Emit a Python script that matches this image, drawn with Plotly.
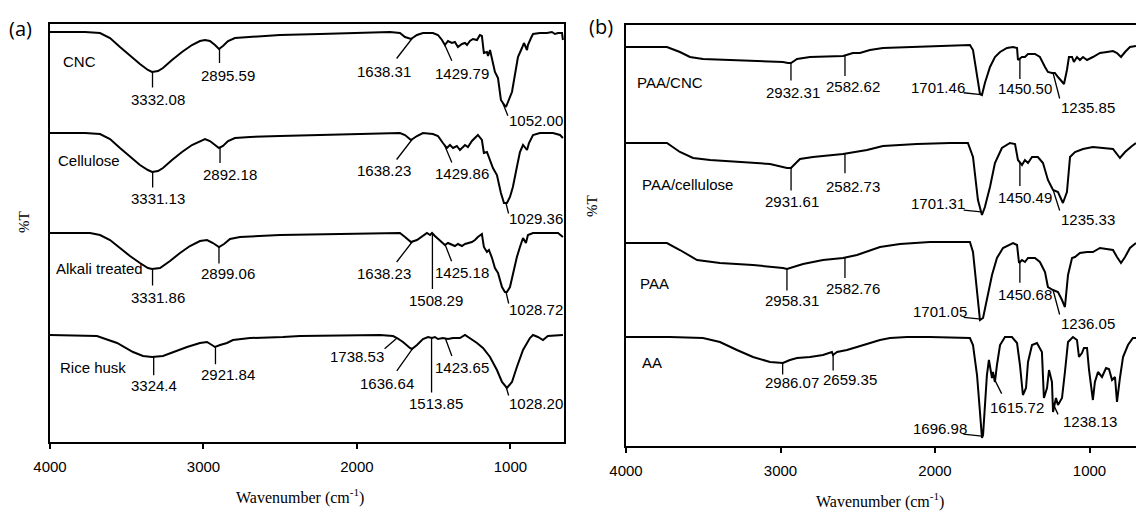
import numpy as np
import plotly.graph_objects as go

# ---------------- DATA ----------------
# Panel (a): wavenumber (cm-1) and offset %T (arbitrary units)
wn_cnc = [4000, 3772, 3674, 3609, 3544, 3479, 3414, 3362, 3335, 3296, 3264, 3205, 3140, 3075, 3023, 2990, 2958, 2925,
          2899, 2873, 2840, 2795, 2697, 2502, 2241, 1980, 1785, 1720, 1687, 1648, 1609, 1570, 1505, 1472, 1446, 1427,
          1407, 1381, 1362, 1342, 1316, 1296, 1283, 1264, 1244, 1218, 1199, 1186, 1173, 1153, 1146, 1133, 1120, 1101,
          1081, 1062, 1049, 1029, 1016, 990, 971, 951, 925, 912, 892, 886, 866, 853, 808, 762, 730, 710, 690, 664, 658]
t_cnc = [410, 410, 409, 404, 395, 386, 378, 372, 370, 371, 374, 382, 390, 397, 401, 402, 401, 397,
         393, 396, 401, 404, 405, 407, 408, 409, 410, 409, 405, 403, 407, 409, 409, 407, 402, 397,
         401, 399, 400, 395, 398, 399, 397, 401, 403, 402, 407, 406, 389, 390, 386, 392, 384, 370,
         364, 342, 339, 335, 340, 350, 367, 385, 394, 399, 392, 397, 404, 408, 409, 409, 410, 408, 409, 409, 402]

wn_cel = [4000, 3772, 3674, 3609, 3544, 3479, 3414, 3362, 3335, 3296, 3264, 3205, 3140, 3075, 3023, 2990, 2958, 2925,
          2899, 2873, 2840, 2795, 2697, 2502, 2241, 1980, 1720, 1687, 1648, 1609, 1570, 1505, 1472, 1440, 1414, 1394,
          1374, 1349, 1329, 1296, 1277, 1251, 1231, 1212, 1186, 1173, 1153, 1133, 1114, 1088, 1062, 1042, 1023, 1003,
          984, 958, 938, 918, 892, 879, 853, 808, 723, 677, 658]
t_cel = [309, 309, 308, 303, 294, 285, 277, 272, 270, 271, 274, 282, 290, 297, 301, 303, 301, 297,
         294, 296, 301, 304, 305, 306, 307, 308, 309, 307, 302, 306, 309, 308, 306, 299, 294, 297,
         294, 296, 292, 297, 295, 301, 304, 307, 302, 289, 290, 282, 274, 267, 249, 239, 239, 245,
         255, 275, 290, 297, 292, 299, 307, 309, 309, 307, 304]

wn_alk = [4000, 3739, 3674, 3609, 3544, 3479, 3414, 3362, 3335, 3283, 3218, 3153, 3088, 3023, 2977, 2938, 2899, 2866,
          2827, 2762, 2502, 2176, 1850, 1720, 1687, 1648, 1609, 1576, 1544, 1524, 1511, 1492, 1472, 1446, 1427, 1407,
          1381, 1362, 1342, 1316, 1296, 1277, 1251, 1231, 1212, 1186, 1173, 1153, 1140, 1120, 1101, 1081, 1055, 1036,
          1023, 1003, 984, 958, 938, 918, 899, 886, 853, 788, 723, 690, 658]
t_alk = [209, 209, 207, 202, 194, 186, 179, 174, 173, 174, 181, 189, 196, 201, 202, 199, 195, 198,
         203, 205, 207, 208, 209, 209, 205, 200, 202, 206, 209, 207, 209, 206, 203, 200, 197, 199,
         197, 196, 198, 196, 198, 199, 200, 202, 205, 208, 195, 190, 192, 184, 174, 169, 155, 150,
         150, 155, 169, 185, 195, 204, 199, 207, 209, 209, 209, 209, 205]

wn_rice = [4000, 3694, 3563, 3459, 3394, 3335, 3264, 3199, 3107, 3023, 2977, 2945, 2925, 2892, 2847, 2808, 2697, 2482,
           2371, 1850, 1765, 1739, 1700, 1655, 1642, 1609, 1570, 1537, 1511, 1492, 1472, 1440, 1407, 1374, 1329, 1296,
           1264, 1218, 1179, 1133, 1088, 1055, 1023, 990, 958, 918, 873, 853, 821, 788, 756, 697, 658]
t_rice = [107, 106, 99, 90, 86, 85, 86, 90, 95, 99, 100, 97, 95, 97, 99, 102, 104, 105,
          106, 107, 106, 104, 100, 94, 93, 97, 103, 105, 104, 105, 103, 104, 103, 104, 104, 107,
          104, 99, 94, 85, 72, 60, 54, 60, 75, 92, 104, 107, 105, 102, 106, 107, 107]

# Panel (b)
wn_paacnc = [4000, 3735, 3651, 3586, 3502, 3282, 3068, 2984, 2952, 2932, 2893, 2809, 2595, 2531, 2486, 2421, 2337, 2117,
             1903, 1774, 1754, 1728, 1709, 1696, 1677, 1644, 1612, 1579, 1534, 1495, 1469, 1463, 1437, 1418, 1398, 1353,
             1321, 1288, 1269, 1243, 1224, 1204, 1178, 1165, 1146, 1133, 1113, 1101, 1081, 1062, 1042, 1016, 978, 932,
             887, 848, 822, 796, 770, 738, 699]
t_paacnc = [399, 399, 394, 389, 387, 386, 385, 384, 383, 383, 387, 389, 390, 393, 393, 396, 398, 399,
            400, 401, 396, 373, 352, 351, 363, 379, 389, 394, 398, 399, 398, 386, 389, 389, 392, 392,
            389, 379, 374, 373, 373, 369, 364, 362, 376, 389, 389, 384, 389, 386, 389, 386, 389, 393,
            394, 395, 393, 389, 394, 399, 400]

wn_paacel = [4000, 3735, 3651, 3566, 3456, 3282, 3068, 2958, 2932, 2926, 2874, 2790, 2595, 2518, 2440, 2337, 2117, 1903,
             1787, 1754, 1722, 1696, 1677, 1644, 1612, 1567, 1515, 1482, 1463, 1437, 1418, 1398, 1372, 1334, 1301, 1269,
             1236, 1204, 1172, 1146, 1126, 1094, 1042, 978, 913, 848, 803, 770, 725, 699]
t_paacel = [303, 303, 294, 288, 286, 284, 282, 278, 278, 279, 287, 289, 292, 294, 296, 300, 302, 303,
            303, 289, 246, 231, 239, 259, 283, 298, 303, 302, 286, 281, 286, 283, 289, 289, 283, 266,
            256, 254, 243, 254, 289, 294, 297, 299, 298, 297, 288, 294, 300, 303]

wn_paa = [4000, 3735, 3651, 3540, 3392, 3178, 2984, 2958, 2854, 2725, 2595, 2505, 2356, 2227, 2033, 1774, 1754, 1728,
          1709, 1689, 1664, 1631, 1599, 1560, 1495, 1469, 1456, 1437, 1418, 1398, 1353, 1321, 1288, 1269, 1236, 1204,
          1178, 1159, 1139, 1113, 1094, 1062, 1016, 978, 932, 887, 848, 822, 796, 770, 738, 699]
t_paa = [203, 203, 196, 186, 183, 181, 178, 177, 182, 186, 188, 191, 199, 202, 204, 204, 194, 154,
         126, 128, 148, 171, 188, 198, 203, 201, 183, 186, 184, 188, 188, 184, 174, 159, 156, 154,
         146, 139, 171, 188, 189, 193, 194, 194, 198, 197, 196, 189, 183, 189, 198, 203]

wn_aa = [4000, 3715, 3502, 3392, 3282, 3178, 3068, 2984, 2939, 2893, 2809, 2725, 2667, 2660, 2634, 2570, 2505, 2356,
         2291, 2181, 2033, 1774, 1754, 1728, 1709, 1696, 1689, 1664, 1651, 1631, 1625, 1612, 1599, 1579, 1547, 1502,
         1469, 1450, 1431, 1411, 1398, 1372, 1340, 1308, 1295, 1275, 1262, 1243, 1236, 1217, 1204, 1178, 1159, 1139,
         1107, 1081, 1068, 1049, 1036, 1016, 1003, 978, 965, 945, 919, 893, 874, 854, 835, 822, 803, 783, 751, 719, 699]
t_aa = [109, 109, 108, 104, 96, 89, 84, 83, 86, 88, 89, 91, 94, 91, 94, 96, 99, 106,
        108, 109, 109, 108, 101, 71, 34, 8, 11, 71, 86, 68, 74, 64, 81, 101, 109, 109,
        103, 81, 51, 58, 84, 101, 103, 94, 48, 58, 76, 64, 34, 48, 41, 48, 74, 104,
        109, 106, 89, 93, 98, 98, 76, 46, 64, 74, 69, 78, 77, 66, 69, 44, 68, 89, 101, 108, 108]

# Series names
names_a = ["CNC", "Cellulose", "Alkali treated", "Rice husk"]
names_b = ["PAA/CNC", "PAA/cellulose", "PAA", "AA"]

# Peak labels (text = wavenumber)
peaks_cnc = ["3332.08", "2895.59", "1638.31", "1429.79", "1052.00"]
peaks_cel = ["3331.13", "2892.18", "1638.23", "1429.86", "1029.36"]
peaks_alk = ["3331.86", "2899.06", "1638.23", "1508.29", "1425.18", "1028.72"]
peaks_rice = ["3324.4", "2921.84", "1738.53", "1636.64", "1513.85", "1423.65", "1028.20"]
peaks_paacnc = ["2932.31", "2582.62", "1701.46", "1450.50", "1235.85"]
peaks_paacel = ["2931.61", "2582.73", "1701.31", "1450.49", "1235.33"]
peaks_paa = ["2958.31", "2582.76", "1701.05", "1450.68", "1236.05"]
peaks_aa = ["2986.07", "2659.35", "1696.98", "1615.72", "1238.13"]

# Axis ticks
tick_vals = [4000, 3000, 2000, 1000]
tick_text = ["4000", "3000", "2000", "1000"]

# ---------------- STYLE (pixel offsets of leader lines / label texts) ----------------
line_cnc = [(0, 17), (0, 16), (-17, 22), (8, 18), (6, 15)]
text_cnc = [(5, 28), (8, 27), (-28, 33), (18, 29), (34, 18)]
line_cel = [(0, 17), (0, 17), (-17, 22), (8, 19), (3, 12)]
text_cel = [(5, 27), (10, 27), (-28, 32), (18, 29), (30, 16)]
line_alk = [(0, 18), (0, 18), (-17, 22), (0, 57), (7, 18), (3, 13)]
text_alk = [(5, 29), (9, 27), (-28, 32), (4, 67), (17, 28), (30, 17)]
line_rice = [(0, 20), (0, 19), (-14, 12), (-17, 24), (0, 56), (7, 19), (3, 10)]
text_rice = [(0, 29), (13, 28), (-40, 18), (-26, 35), (4, 66), (17, 29), (30, 16)]
line_paacnc = [(0, 19), (0, 22), (-19, -2), (0, 22), (7, 27)]
text_paacnc = [(2, 29), (8, 31), (-43, -7), (5, 30), (35, 34)]
line_paacel = [(0, 24), (0, 21), (-19, -2), (0, 25), (7, 22)]
text_paacel = [(1, 34), (8, 33), (-43, -8), (5, 35), (35, 29)]
line_paa = [(0, 23), (0, 22), (-19, -2), (0, 22), (7, 26)]
text_paa = [(5, 32), (8, 31), (-41, -8), (5, 32), (35, 33)]
line_aa = [(0, 13), (0, 17), (-20, -2), (8, 16), (6, 13)]
text_aa = [(9, 20), (17, 25), (-42, -8), (23, 28), (37, 19)]

# series name label positions (wavenumber, T) - left-anchored text
name_pos_a = [(3928, 380), (3961, 281), (3974, 174), (3948, 75)]
name_pos_b = [(3942, 364), (3909, 262), (3922, 163), (3909, 84)]

NUM_FONT = dict(family="Liberation Sans, Arial, sans-serif", size=15, color="black")
SERIF = "Liberation Serif, Times New Roman, serif"

fig = go.Figure()
annotations = []


def add_curve(wn, t, xa, ya):
    fig.add_trace(go.Scatter(x=wn, y=t, mode="lines", xaxis=xa, yaxis=ya,
                             line=dict(color="black", width=2), showlegend=False,
                             hoverinfo="skip"))


def add_peaks(wn, t, labels, lines, texts, xref, yref):
    xs = np.array(wn[::-1], dtype=float)
    ys = np.array(t[::-1], dtype=float)
    for lab, (ldx, ldy), (tdx, tdy) in zip(labels, lines, texts):
        w = float(lab)
        yv = float(np.interp(w, xs, ys))
        annotations.append(dict(x=w, y=yv, xref=xref, yref=yref, text="", showarrow=True,
                                arrowhead=0, arrowwidth=1.3, arrowcolor="black",
                                ax=ldx, ay=ldy, axref="pixel", ayref="pixel",
                                standoff=0, startstandoff=0))
        annotations.append(dict(x=w, y=yv, xref=xref, yref=yref, text=lab, showarrow=False,
                                xshift=tdx, yshift=-tdy, xanchor="center", yanchor="middle",
                                font=NUM_FONT))


series_a = [(wn_cnc, t_cnc, peaks_cnc, line_cnc, text_cnc),
            (wn_cel, t_cel, peaks_cel, line_cel, text_cel),
            (wn_alk, t_alk, peaks_alk, line_alk, text_alk),
            (wn_rice, t_rice, peaks_rice, line_rice, text_rice)]
series_b = [(wn_paacnc, t_paacnc, peaks_paacnc, line_paacnc, text_paacnc),
            (wn_paacel, t_paacel, peaks_paacel, line_paacel, text_paacel),
            (wn_paa, t_paa, peaks_paa, line_paa, text_paa),
            (wn_aa, t_aa, peaks_aa, line_aa, text_aa)]

for wn, t, pk, ln, tx in series_a:
    add_curve(wn, t, "x", "y")
    add_peaks(wn, t, pk, ln, tx, "x", "y")
for wn, t, pk, ln, tx in series_b:
    add_curve(wn, t, "x2", "y2")
    add_peaks(wn, t, pk, ln, tx, "x2", "y2")

for name, (px, py) in zip(names_a, name_pos_a):
    annotations.append(dict(x=px, y=py, xref="x", yref="y", text=name, showarrow=False,
                            xanchor="left", yanchor="middle", font=NUM_FONT))
for name, (px, py) in zip(names_b, name_pos_b):
    annotations.append(dict(x=px, y=py, xref="x2", yref="y2", text=name, showarrow=False,
                            xanchor="left", yanchor="middle", font=NUM_FONT))

# axis titles, y labels, panel letters
for xc, yc in [(300 / 1136, 0.035), (880 / 1136, 0.027)]:
    annotations.append(dict(x=xc, y=yc, xref="paper", yref="paper",
                            text="Wavenumber (cm<sup>-1</sup>)", showarrow=False,
                            xanchor="center", yanchor="middle",
                            font=dict(family=SERIF, size=16, color="black")))
for xc, yc in [(24 / 1136, 0.568), (592 / 1136, 0.599)]:
    annotations.append(dict(x=xc, y=yc, xref="paper", yref="paper", text="%T",
                            showarrow=False, textangle=-90, xanchor="center", yanchor="middle",
                            font=dict(family=SERIF, size=15, color="black")))
for txt, xc, yc in [("(a)", 20 / 1136, 0.9455), ("(b)", 601 / 1136, 0.9475)]:
    annotations.append(dict(x=xc, y=yc, xref="paper", yref="paper", text=txt,
                            showarrow=False, xanchor="center", yanchor="middle",
                            font=dict(family="Open Sans, sans-serif", size=20, color="black")))

xcommon = dict(tickvals=tick_vals, ticktext=tick_text, ticks="outside", ticklen=5, tickwidth=1.5,
               tickcolor="black", showline=True, linewidth=2, linecolor="black", mirror=True,
               showgrid=False, zeroline=False, ticklabelstandoff=5, automargin=False,
               tickfont=dict(family="Liberation Sans, Arial, sans-serif", size=15, color="black"))
ycommon = dict(showline=True, linewidth=2, linecolor="black", showgrid=False, zeroline=False,
               showticklabels=False, ticks="", automargin=False)

fig.update_layout(
    template="none",
    width=1136, height=514, margin=dict(l=0, r=0, t=0, b=0, pad=0),
    paper_bgcolor="white", plot_bgcolor="white", showlegend=False,
    xaxis=dict(domain=[50 / 1136, 564 / 1136], range=[4000, 651], anchor="y", **xcommon),
    yaxis=dict(domain=[72 / 514, 490 / 514], range=[0, 418], anchor="x", mirror=True, **ycommon),
    xaxis2=dict(domain=[626 / 1136, 1.0], range=[4000, 699], anchor="y2", **xcommon),
    yaxis2=dict(domain=[68 / 514, 489 / 514], range=[0, 421], anchor="x2", mirror=False, **ycommon),
    annotations=annotations,
)

fig.write_html("out.html")
